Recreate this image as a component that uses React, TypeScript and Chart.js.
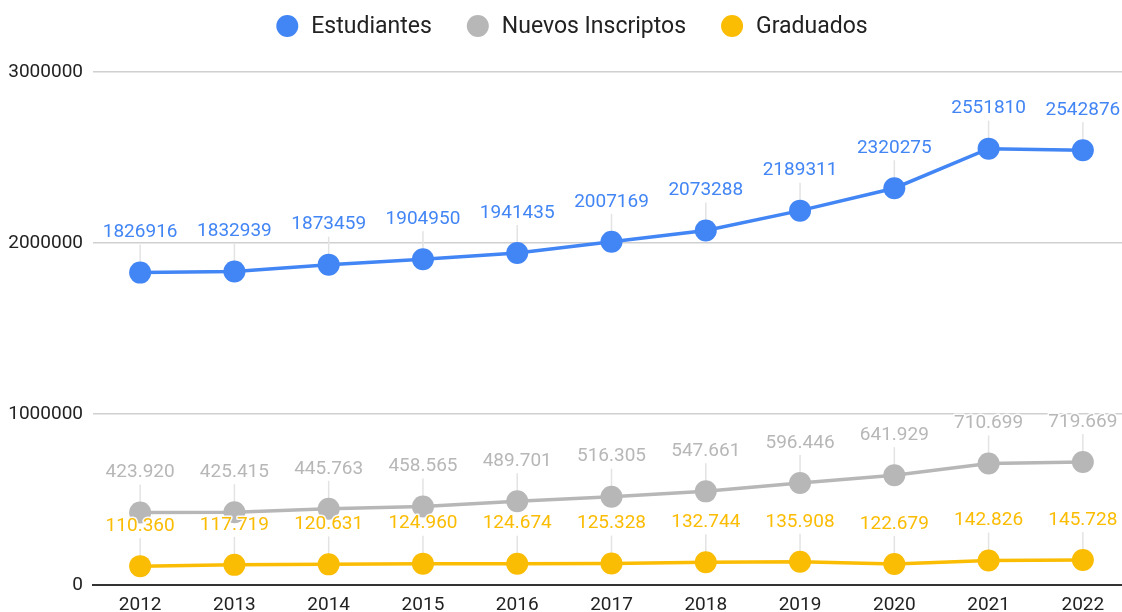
import { useEffect, useRef } from "react";
import { Chart, registerables } from "chart.js";

Chart.register(...registerables);

const years = ["2012", "2013", "2014", "2015", "2016", "2017", "2018", "2019", "2020", "2021", "2022"];
const estudiantes = [1826916, 1832939, 1873459, 1904950, 1941435, 2007169, 2073288, 2189311, 2320275, 2551810, 2542876];
const nuevosInscriptos = [423920, 425415, 445763, 458565, 489701, 516305, 547661, 596446, 641929, 710699, 719669];
const graduados = [110360, 117719, 120631, 124960, 124674, 125328, 132744, 135908, 122679, 142826, 145728];
const yTicks = [0, 1000000, 2000000, 3000000];
const seriesNames = ["Estudiantes", "Nuevos Inscriptos", "Graduados"];
const seriesColors = ["#4285F4", "#B7B7B7", "#FBBC04"];
const seriesDotted = [false, true, true];

const FONT = "Roboto, 'Noto Sans', sans-serif";

function fmtDots(v: number): string {
  return String(v).replace(/\B(?=(\d{3})+(?!\d))/g, ".");
}

const legendPlugin = {
  id: "customLegend",
  afterDraw(chart: any) {
    const ctx = chart.ctx as CanvasRenderingContext2D;
    ctx.save();
    ctx.font = `23px ${FONT}`;
    const r = 11;
    const gapText = 13;
    const gapItem = 35;
    const widths = seriesNames.map((n) => 2 * r + gapText + ctx.measureText(n).width);
    const total = widths.reduce((a, b) => a + b, 0) + gapItem * (seriesNames.length - 1);
    let x = chart.width / 2 - total / 2;
    const y = 26;
    seriesNames.forEach((n, i) => {
      ctx.beginPath();
      ctx.fillStyle = seriesColors[i];
      ctx.arc(x + r, y, r, 0, Math.PI * 2);
      ctx.fill();
      ctx.fillStyle = "#222222";
      ctx.textAlign = "left";
      ctx.textBaseline = "middle";
      ctx.fillText(n, x + 2 * r + gapText, y + 1);
      x += widths[i] + gapItem;
    });
    ctx.restore();
  },
};

const labelPlugin = {
  id: "pointLabels",
  beforeDatasetsDraw(chart: any) {
    const ctx = chart.ctx as CanvasRenderingContext2D;
    ctx.save();
    ctx.strokeStyle = "#e3e3e3";
    ctx.lineWidth = 1.5;
    chart.data.datasets.forEach((_ds: any, di: number) => {
      const meta = chart.getDatasetMeta(di);
      meta.data.forEach((pt: any) => {
        ctx.beginPath();
        ctx.moveTo(pt.x, pt.y - 28);
        ctx.lineTo(pt.x, pt.y);
        ctx.stroke();
      });
    });
    ctx.restore();
  },
  afterDatasetsDraw(chart: any) {
    const ctx = chart.ctx as CanvasRenderingContext2D;
    ctx.save();
    ctx.font = `19px ${FONT}`;
    ctx.textAlign = "center";
    ctx.textBaseline = "middle";
    ctx.lineJoin = "round";
    chart.data.datasets.forEach((ds: any, di: number) => {
      const meta = chart.getDatasetMeta(di);
      meta.data.forEach((pt: any, i: number) => {
        const v = ds.data[i] as number;
        const txt = seriesDotted[di] ? fmtDots(v) : String(v);
        const ty = pt.y - 40;
        ctx.strokeStyle = "rgba(255,255,255,0.9)";
        ctx.lineWidth = 3;
        ctx.strokeText(txt, pt.x, ty);
        ctx.fillStyle = seriesColors[di];
        ctx.fillText(txt, pt.x, ty);
      });
    });
    ctx.restore();
  },
};

export default function App() {
  const ref = useRef<HTMLCanvasElement | null>(null);

  useEffect(() => {
    if (!ref.current) return;
    const series = [estudiantes, nuevosInscriptos, graduados];
    const chart = new Chart(ref.current, {
      type: "line",
      data: {
        labels: years,
        datasets: series.map((d, i) => ({
          label: seriesNames[i],
          data: d,
          borderColor: seriesColors[i],
          backgroundColor: seriesColors[i],
          pointBackgroundColor: seriesColors[i],
          pointBorderColor: seriesColors[i],
          borderWidth: 3.5,
          pointRadius: 11,
          pointHoverRadius: 11,
          pointBorderWidth: 0,
          tension: 0,
          fill: false,
        })),
      },
      options: {
        responsive: false,
        animation: false,
        devicePixelRatio: 1,
        layout: { padding: { left: 0, right: 14, top: 72, bottom: 0 } },
        plugins: {
          legend: { display: false },
          tooltip: { enabled: false },
        },
        scales: {
          x: {
            offset: true,
            grid: { display: false },
            border: { display: true, color: "#333333", width: 2 },
            ticks: {
              color: "#222222",
              font: { family: FONT, size: 19 },
              padding: 1,
              maxRotation: 0,
              autoSkip: false,
            },
            afterFit: (s: any) => {
              s.height = 27;
            },
          },
          y: {
            min: 0,
            max: 3000000,
            afterBuildTicks: (s: any) => {
              s.ticks = yTicks.map((v) => ({ value: v }));
            },
            grid: { color: "#d0d0d0", lineWidth: 1.5, drawTicks: false },
            border: { display: false },
            ticks: {
              color: "#222222",
              font: { family: FONT, size: 19 },
              padding: 10,
              callback: (v: any) => String(v),
            },
            afterFit: (s: any) => {
              s.width = 93;
            },
          },
        },
      },
      plugins: [labelPlugin, legendPlugin],
    });
    return () => chart.destroy();
  }, []);

  return (
    <div
      style={{
        position: "fixed",
        left: 0,
        top: 0,
        width: 1122,
        height: 612,
        overflow: "hidden",
        background: "#ffffff",
      }}
    >
      <canvas ref={ref} width={1144} height={612} style={{ display: "block" }} />
    </div>
  );
}
